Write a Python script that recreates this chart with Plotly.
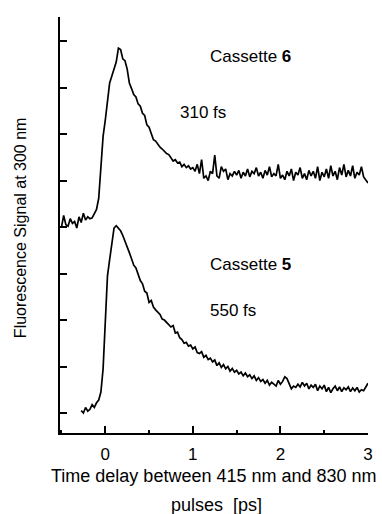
import plotly.graph_objects as go

# time delay [ps]
time_ps = [
    -0.500, -0.475, -0.450, -0.425, -0.400, -0.375, -0.350, -0.325, -0.300, -0.275,
    -0.250, -0.225, -0.200, -0.175, -0.150, -0.125, -0.100, -0.075, -0.050, -0.025,
    0.000, 0.025, 0.050, 0.075, 0.100, 0.125, 0.150, 0.175, 0.200, 0.225,
    0.250, 0.275, 0.300, 0.325, 0.350, 0.375, 0.400, 0.425, 0.450, 0.475,
    0.500, 0.525, 0.550, 0.575, 0.600, 0.625, 0.650, 0.675, 0.700, 0.725,
    0.750, 0.775, 0.800, 0.825, 0.850, 0.875, 0.900, 0.925, 0.950, 0.975,
    1.000, 1.025, 1.050, 1.075, 1.100, 1.125, 1.150, 1.175, 1.200, 1.225,
    1.250, 1.275, 1.300, 1.325, 1.350, 1.375, 1.400, 1.425, 1.450, 1.475,
    1.500, 1.525, 1.550, 1.575, 1.600, 1.625, 1.650, 1.675, 1.700, 1.725,
    1.750, 1.775, 1.800, 1.825, 1.850, 1.875, 1.900, 1.925, 1.950, 1.975,
    2.000, 2.025, 2.050, 2.075, 2.100, 2.125, 2.150, 2.175, 2.200, 2.225,
    2.250, 2.275, 2.300, 2.325, 2.350, 2.375, 2.400, 2.425, 2.450, 2.475,
    2.500, 2.525, 2.550, 2.575, 2.600, 2.625, 2.650, 2.675, 2.700, 2.725,
    2.750, 2.775, 2.800, 2.825, 2.850, 2.875, 2.900, 2.925, 2.950, 2.975,
    3.000,
]

# Cassette 6 (upper trace, offset), arbitrary units
cassette6 = [
    4.00, 4.25, 4.05, 4.02, 4.18, 4.08, 4.12, 3.98, 4.22, 4.10,
    4.30, 4.15, 4.22, 4.18, 4.20, 4.30, 4.38, 4.62, 5.30, 5.95,
    6.30, 6.75, 7.10, 7.25, 7.40, 7.55, 7.85, 7.82, 7.62, 7.58,
    7.40, 7.10, 6.98, 6.85, 6.80, 6.65, 6.60, 6.45, 6.40, 6.20,
    6.15, 6.00, 5.88, 5.85, 5.78, 5.72, 5.68, 5.62, 5.58, 5.56,
    5.50, 5.42, 5.45, 5.38, 5.40, 5.30, 5.35, 5.28, 5.32, 5.25,
    5.28, 5.20, 5.35, 5.15, 5.45, 5.05, 5.10, 5.00, 5.20, 5.15,
    5.55, 5.10, 5.05, 5.30, 5.20, 5.25, 5.02, 5.15, 5.10, 5.20,
    5.12, 5.22, 5.05, 5.18, 5.10, 5.25, 5.08, 5.20, 5.15, 5.28,
    5.10, 5.18, 5.05, 5.22, 5.12, 5.30, 5.08, 5.15, 5.10, 5.35,
    5.05, 5.12, 5.02, 5.20, 5.10, 5.25, 5.00, 5.18, 5.12, 5.28,
    5.05, 5.15, 5.02, 5.22, 5.10, 5.20, 5.05, 5.30, 5.00, 5.18,
    5.08, 5.25, 5.05, 5.32, 5.10, 5.20, 5.02, 5.28, 5.12, 5.35,
    5.08, 5.22, 5.10, 5.32, 5.05, 5.18, 5.12, 5.30, 5.08, 5.02,
    4.95,
]

# Cassette 5 (lower trace), arbitrary units
cassette5 = [
    None, None, None, None, None, None, None, None, None, 0.05,
    0.00, 0.12, 0.04, 0.08, 0.18, 0.12, 0.22, 0.28, 0.45, 0.95,
    2.10, 2.95, 3.30, 3.62, 3.98, 4.03, 3.98, 3.92, 3.82, 3.68,
    3.58, 3.45, 3.32, 3.18, 3.12, 2.98, 2.85, 2.78, 2.62, 2.58,
    2.38, 2.42, 2.28, 2.22, 2.16, 2.12, 2.02, 2.00, 1.95, 1.90,
    1.85, 1.88, 1.72, 1.74, 1.62, 1.58, 1.50, 1.52, 1.44, 1.46,
    1.38, 1.42, 1.30, 1.28, 1.32, 1.20, 1.24, 1.15, 1.18, 1.10,
    1.14, 1.02, 1.08, 0.98, 1.04, 0.95, 1.00, 0.90, 0.96, 0.88,
    0.92, 0.84, 0.88, 0.80, 0.86, 0.78, 0.82, 0.74, 0.80, 0.70,
    0.76, 0.68, 0.72, 0.64, 0.70, 0.60, 0.66, 0.62, 0.58, 0.70,
    0.62, 0.68, 0.78, 0.74, 0.62, 0.52, 0.58, 0.55, 0.62, 0.56,
    0.66, 0.58, 0.64, 0.52, 0.60, 0.55, 0.62, 0.48, 0.58, 0.52,
    0.60, 0.46, 0.55, 0.44, 0.52, 0.58, 0.48, 0.56, 0.46, 0.54,
    0.50, 0.56, 0.46, 0.54, 0.48, 0.55, 0.45, 0.50, 0.48, 0.56,
    0.64,
]

x_ticks = [0, 1, 2, 3]
x_ticklabels = ["0", "1", "2", "3"]
y_ticks = [0, 1, 2, 3, 4, 5, 6, 7, 8]

FONT = "Liberation Sans, Arial, sans-serif"

fig = go.Figure()
for series in (cassette6, cassette5):
    fig.add_trace(go.Scatter(x=time_ps, y=series, mode="lines",
                             line=dict(color="black", width=1.7),
                             connectgaps=False, showlegend=False,
                             hoverinfo="skip"))

annots = [
    dict(text="Cassette <b>6</b>", x=1.17, y=7.67, xanchor="left"),
    dict(text="310 fs", x=0.83, y=6.47, xanchor="left"),
    dict(text="Cassette <b>5</b>", x=1.17, y=3.2, xanchor="left"),
    dict(text="550 fs", x=1.17, y=2.2, xanchor="left"),
]
for a in annots:
    fig.add_annotation(xref="x", yref="y", yanchor="middle", showarrow=False,
                       font=dict(size=17, color="black", family=FONT), **a)

# axis titles
fig.add_annotation(text="Fluorescence Signal at 300 nm", xref="paper", yref="paper",
                   x=(20 - 60) / 313, y=(433 - 227) / 417, textangle=-90,
                   showarrow=False, xanchor="center", yanchor="middle",
                   font=dict(size=16, color="black", family=FONT))
fig.add_annotation(text="Time delay between 415 nm and 830 nm", xref="paper", yref="paper",
                   x=(216 - 60) / 313, y=-(476 - 433) / 417,
                   showarrow=False, xanchor="center", yanchor="middle",
                   font=dict(size=18, color="black", family=FONT))
fig.add_annotation(text="pulses  [ps]", xref="paper", yref="paper",
                   x=(219 - 60) / 313, y=-(505 - 433) / 417,
                   showarrow=False, xanchor="center", yanchor="middle",
                   font=dict(size=18, color="black", family=FONT))

fig.update_layout(
    width=382, height=514,
    margin=dict(l=60, r=9, t=17, b=81),
    plot_bgcolor="white", paper_bgcolor="white",
    font=dict(family=FONT, size=16, color="black"),
)
fig.update_xaxes(range=[-0.517, 3.0], showline=True, linecolor="black", linewidth=1.8,
                 showgrid=False, zeroline=False, ticks="inside", ticklen=7, tickwidth=1.5,
                 tickcolor="black", tickvals=x_ticks, ticktext=x_ticklabels,
                 ticklabelstandoff=5,
                 tickfont=dict(size=17, family=FONT, color="black"),
                 minor=dict(ticks="inside", ticklen=3, tickwidth=1.5, tickcolor="black",
                            dtick=0.5, tick0=0, showgrid=False))
fig.update_yaxes(range=[-0.43, 8.52], showline=True, linecolor="black", linewidth=1.8,
                 showgrid=False, zeroline=False, ticks="inside", ticklen=7, tickwidth=1.5,
                 tickcolor="black", tickvals=y_ticks, showticklabels=False)

fig.write_html("out.html")
